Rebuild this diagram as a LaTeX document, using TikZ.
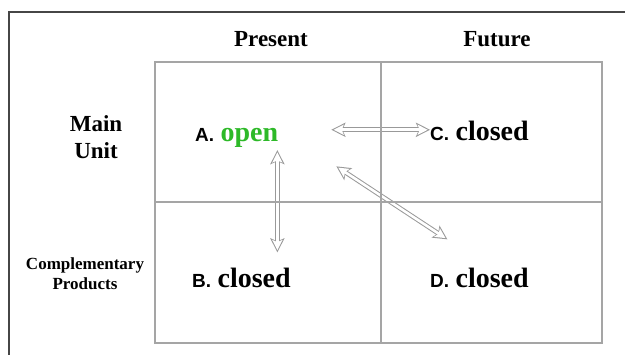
\documentclass[tikz,border=0pt]{standalone}
\usepackage{fontspec}
\setmainfont{Liberation Serif}
\setsansfont{Liberation Sans}
\usetikzlibrary{arrows.meta, positioning}
\definecolor{opengreen}{RGB}{45,185,40}
\definecolor{gridgray}{RGB}{165,165,165}
\definecolor{framegray}{RGB}{70,70,70}
\newcommand{\serifsize}[1]{\fontsize{#1}{1.2\dimexpr#1pt\relax}\selectfont\bfseries}
\tikzstyle{heading} = [inner sep=0pt, anchor=base, font=\serifsize{23}]
\tikzstyle{rowlabel} = [inner sep=0pt, align=center]
\tikzstyle{letter} = [inner sep=0pt, anchor=base west, font=\sffamily\bfseries\fontsize{19}{22}\selectfont]
\tikzstyle{state} = [inner sep=0pt, font=\serifsize{28}]
\tikzstyle{gridline} = [draw=gridgray, line width=1.1pt]
% hollow two-headed arrow: gray outline, white inside
\tikzstyle{dblarrow} = [draw=gray!80, line width=4.6pt,
	{Stealth[length=14pt, width=14pt, inset=3pt]}-{Stealth[length=14pt, width=14pt, inset=3pt]},
	postaction={draw=white, line width=2.6pt, shorten <=2.3pt, shorten >=2.3pt,
		{Stealth[length=10pt, width=10pt, inset=2pt]}-{Stealth[length=10pt, width=10pt, inset=2pt]}}]

\begin{document}
\begin{tikzpicture}[x=1pt, y=1pt]
	\useasboundingbox (0,0) rectangle (625,355);
	\draw[framegray, line width=1.2pt] (9,0) |- (625,343);
	% column and row headings
	\node[heading] (present) at (271,308) {Present};
	\node[heading] (future) at (497,308) {Future};
	\node[rowlabel, font=\serifsize{23}] (main) at (96,218) {Main\\Unit};
	\node[rowlabel, font=\serifsize{17}] (compl) at (85,81) {Complementary\\Products};
	% the four cells
	\node[letter] (la) at (195,213) {A.};
	\node[state, text=opengreen, base right=6pt of la] (wa) {open};
	\node[letter] (lc) at (430,214) {C.};
	\node[state, base right=6pt of lc] (wc) {closed};
	\node[letter] (lb) at (192,67) {B.};
	\node[state, base right=6pt of lb] (wb) {closed};
	\node[letter] (ld) at (430,67) {D.};
	\node[state, base right=6pt of ld] (wd) {closed};
	% links between the cells
	\draw[dblarrow] ([shift={(53pt,8.6pt)}]wa.east) -- ([yshift=8.6pt]wa.east -| lc.west);
	\draw[dblarrow] ([shift={(-1pt,-2pt)}]wa.south east) -- ([shift={(-1pt,16pt)}]wa.south east |- wb.north);
	\draw[dblarrow] ([shift={(58pt,-28pt)}]wa.east) -- ([shift={(-8pt,29pt)}]wd.north west);
	% grid on top
	\draw[gridline] (155,12) rectangle (602,293);
	\draw[gridline] (381,12) -- (381,293);
	\draw[gridline] (155,153) -- (602,153);
\end{tikzpicture}
\end{document}
